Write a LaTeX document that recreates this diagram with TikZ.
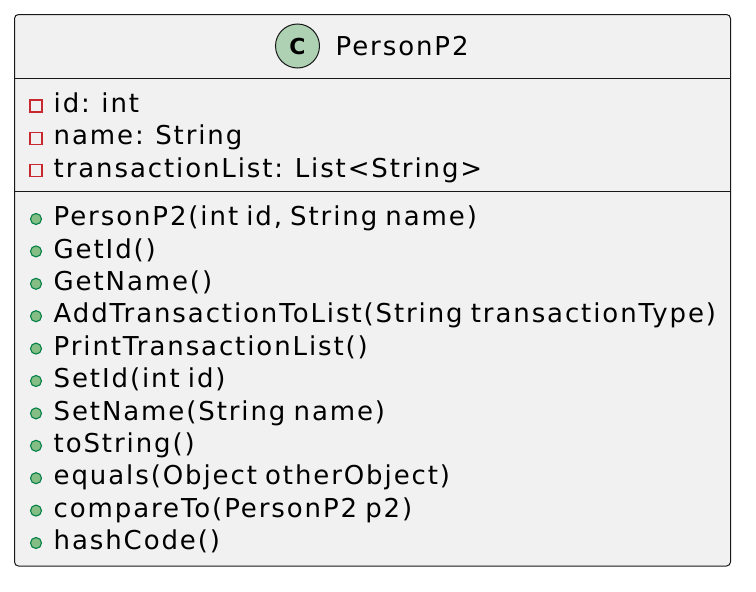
\documentclass[tikz,border=0pt]{standalone}
\usepackage{fontspec}
\setmainfont{DejaVu Sans}[LetterSpace=7.3, WordSpace=0.8]
\definecolor{boxbg}{HTML}{F1F1F1}
\definecolor{boxline}{HTML}{181818}
\definecolor{cfill}{HTML}{ADD1B2}
\definecolor{privred}{HTML}{C82930}
\definecolor{pubfill}{HTML}{84BE84}
\definecolor{publine}{HTML}{038048}
\newfontfamily\iconfont{DejaVu Sans}
\tikzset{
  member/.style={anchor=base west, inner sep=0pt, font=\fontsize{26}{30}\selectfont, text=black},
  privmark/.style={draw=privred, line width=1.1pt, fill=boxbg},
  pubmark/.style={draw=publine, line width=1.1pt, fill=pubfill},
}
\begin{document}
\begin{tikzpicture}[x=1pt,y=-1pt]
\useasboundingbox (0,0) rectangle (756,592);
% class box
\draw[boxline, fill=boxbg, line width=1pt, rounded corners=4pt] (14.5,14.5) rectangle (730.5,566);
\draw[boxline, line width=1pt] (14.5,78) -- (730.5,78);
\draw[boxline, line width=1pt] (14.5,191) -- (730.5,191);
% header
\node[circle, draw=boxline, fill=cfill, line width=1pt, minimum size=44pt, inner sep=0pt] (cicon) at (297.5,46) {};
\node[inner sep=0pt, font=\iconfont\fontsize{22}{24}\bfseries\selectfont] (cletter) at (cicon.center) {C};
\node[member] (title) at (335.5,55) {PersonP2};
% attributes
\foreach \t [count=\i from 0] in {{id: int},{name: String},{transactionList: List<String>}}{
  \draw[privmark] (30,{100+32.4*\i}) rectangle (42,{112+32.4*\i});
  \node[member] (attr\i) at (53.5,{112.5+32.4*\i}) {\t};
}
% methods
\foreach \t [count=\i from 0] in {{PersonP2(int id, String name)},{GetId()},{GetName()},{AddTransactionToList(String transactionType)},{PrintTransactionList()},{SetId(int id)},{SetName(String name)},{toString()},{equals(Object otherObject)},{compareTo(PersonP2 p2)},{hashCode()}}{
  \draw[pubmark] (36,{219+32.4*\i}) circle (5.5pt);
  \node[member] (meth\i) at (53.5,{225.7+32.4*\i}) {\t};
}
\end{tikzpicture}
\end{document}
